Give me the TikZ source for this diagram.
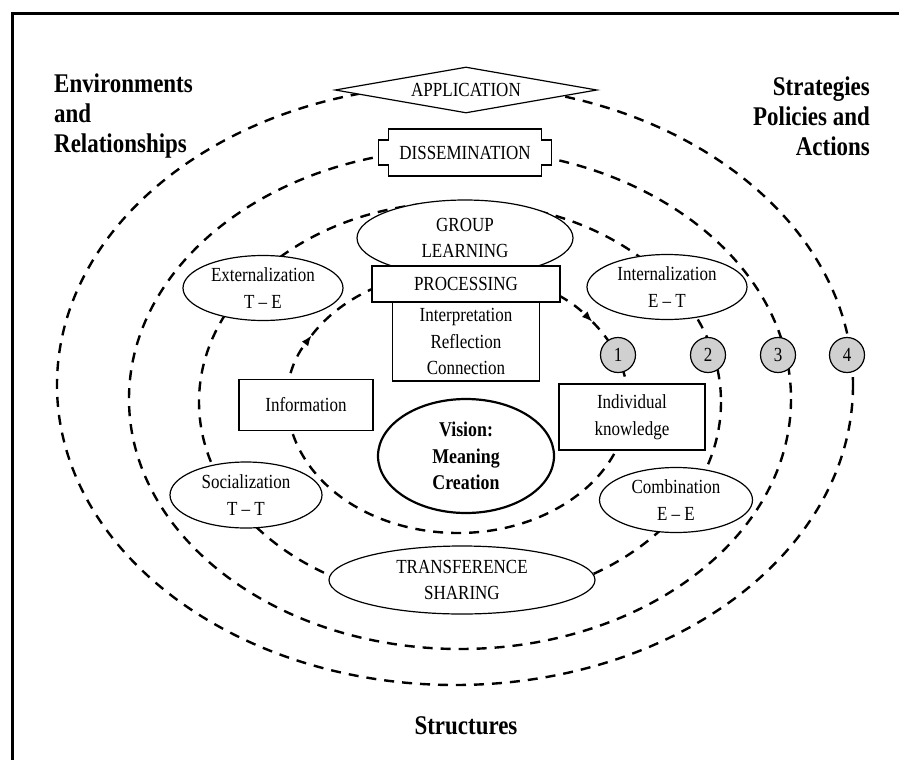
\documentclass[tikz,border=0pt]{standalone}
\usepackage{fontspec}
\setmainfont{Liberation Serif}[FakeStretch=0.85]
\usetikzlibrary{arrows.meta,shapes.geometric}
\definecolor{numGray}{RGB}{208,208,208}

\begin{document}
\begin{tikzpicture}[
  x=1pt, y=-1pt,
  font=\fontsize{20}{26.5}\selectfont,
  ring/.style={
    line width=2.4pt,
    dash pattern=on 10pt off 8pt,
  },
  box/.style={
    draw,
    fill=white,
    line width=1.2pt,
    align=center,
    inner sep=2pt,
  },
  oval/.style={
    box,
    ellipse,
    inner sep=0pt,
  },
  numc/.style={
    draw,
    circle,
    fill=numGray,
    line width=1.2pt,
    minimum size=35pt,
    inner sep=0pt,
  },
  side/.style={
    font=\fontsize{27}{30}\selectfont\bfseries,
    inner sep=0pt,
  },
]

  \useasboundingbox (0,0) rectangle (899,760);
  \fill[white] (0,0) rectangle (899,760);
  \draw[line width=3pt] (12,760) -- (12,14) -- (899,14);

  % the four levels
  \coordinate (c1) at (458,402);
  \coordinate (c2) at (460,402);
  \coordinate (c3) at (460,399);
  \coordinate (c4) at (455,385);

  \draw[ring] (c4) ellipse [x radius=398, y radius=300];
  \draw[ring] (c3) ellipse [x radius=331, y radius=250];
  \draw[ring] (c2) ellipse [x radius=261, y radius=200];
  \draw[ring, -{Latex[length=11pt,width=8pt]}] (c1) ++(322.4:170 and 131)
    arc[start angle=322.4, end angle=570.7, x radius=170, y radius=131];
  \draw[ring, -{Latex[length=11pt,width=8pt]}] (c1) ++(210.7:170 and 131)
    arc[start angle=210.7, end angle=322.4, x radius=170, y radius=131];

  \node[side, align=left, anchor=west] (env) at (54,116)
    {Environments\\and\\Relationships};
  \node[side, align=right, anchor=east] (strat) at (870,116)
    {Strategies\\Policies and\\Actions};
  \node[side] (struct) at (466,726) {Structures};

  \node[box, diamond, shape aspect=5.6, inner sep=0pt,
    minimum width=262, minimum height=46] (app) at (466,90) {APPLICATION};

  \coordinate (disc) at (465,152.5);
  \draw[line width=1.2pt, fill=white] (disc) ++(-76.5,-23.5)
    -- ++(153,0) -- ++(0,11) -- ++(10,0) -- ++(0,25) -- ++(-10,0)
    -- ++(0,11) -- ++(-153,0) -- ++(0,-11) -- ++(-10,0) -- ++(0,-25)
    -- ++(10,0) -- cycle;
  \node (dis) at (disc) {DISSEMINATION};

  \node[oval, minimum width=216, minimum height=76] (grp) at (465,238)
    {GROUP\\LEARNING};
  \node[oval, minimum width=160, minimum height=65] (ext) at (263,288)
    {Externalization\\T -- E};
  \node[oval, minimum width=160, minimum height=65] (int) at (667,287)
    {Internalization\\E -- T};
  \node[oval, minimum width=152, minimum height=66] (soc) at (246,495)
    {Socialization\\T -- T};
  \node[oval, minimum width=153, minimum height=65] (comb) at (676,500)
    {Combination\\E -- E};
  \node[oval, minimum width=266, minimum height=68] (trans) at (462,580)
    {TRANSFERENCE\\SHARING};

  \node[box, minimum width=188, minimum height=36] (proc) at (466,284)
    {PROCESSING};
  \node[box, minimum width=147, minimum height=79] (irc) at (466,341.5)
    {Interpretation\\Reflection\\Connection};
  \node[box, minimum width=134, minimum height=51] (info) at (306,405)
    {Information};
  \node[box, minimum width=146, minimum height=66] (indiv) at (632,417)
    {Individual\\knowledge};
  \node[oval, line width=2.2pt, minimum width=176, minimum height=114,
    font=\fontsize{21}{26.5}\selectfont\bfseries] (vis) at (466,456)
    {Vision:\\Meaning\\Creation};

  \foreach \n/\x in {1/618, 2/708, 3/778, 4/847}
    \node[numc] (num\n) at (\x,355) {\n};

\end{tikzpicture}
\end{document}
